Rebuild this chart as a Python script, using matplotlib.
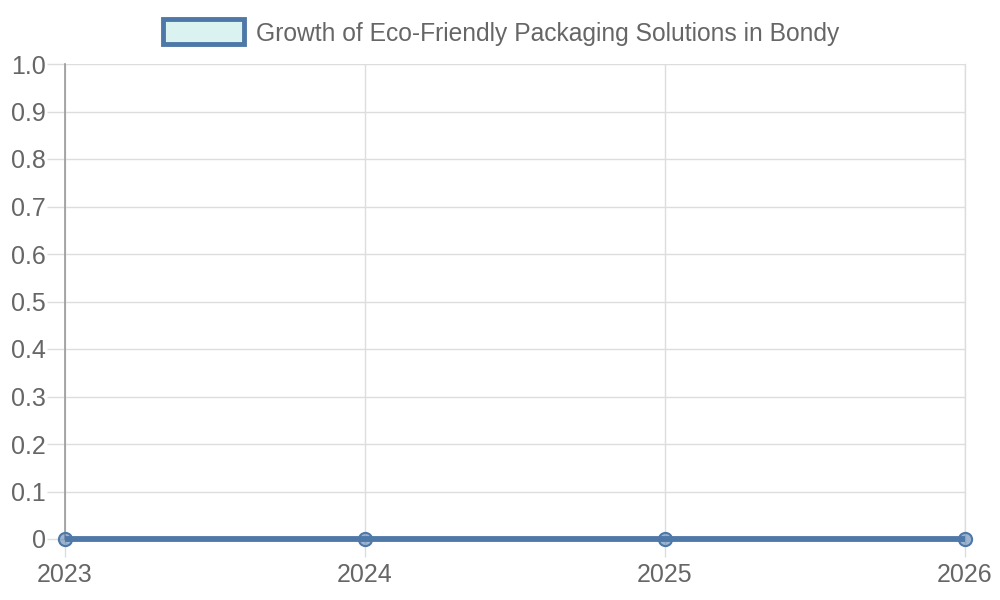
import matplotlib
matplotlib.use("Agg")
import matplotlib.pyplot as plt
from matplotlib.patches import Rectangle

plt.rcParams['font.family'] = ['Liberation Sans', 'DejaVu Sans']

years = [2023, 2024, 2025, 2026]
growth = [0, 0, 0, 0]
series_label = "Growth of Eco-Friendly Packaging Solutions in Bondy"
y_ticks = [0, 0.1, 0.2, 0.3, 0.4, 0.5, 0.6, 0.7, 0.8, 0.9, 1.0]
y_tick_labels = ["0", "0.1", "0.2", "0.3", "0.4", "0.5", "0.6", "0.7", "0.8", "0.9", "1.0"]

line_col = "#4e78a8"
fill_col = "#daf2f0"
grid_col = "#dddddd"
text_col = "#666666"

fig = plt.figure(figsize=(10, 6), dpi=100)
ax = fig.add_axes([0.065, 1 - 539 / 600, 0.9, 475 / 600])

ax.plot(years, growth, color=line_col, lw=4.2, zorder=3, clip_on=False,
        solid_capstyle='butt')
ax.plot(years, growth, ls='none', marker='o', ms=9.5, mfc=(0.3, 0.47, 0.66, 0.55),
        mec=line_col, mew=1.5, zorder=4, clip_on=False)

ax.set_xlim(years[0], years[-1])
ax.set_ylim(0, 1)
ax.set_xticks(years)
ax.set_xticklabels([str(y) for y in years])
ax.set_yticks(y_ticks)
ax.set_yticklabels(y_tick_labels)

ax.grid(True, color=grid_col, lw=1)
for s in ['top', 'bottom']:
    ax.spines[s].set_visible(False)
ax.spines['right'].set_color(grid_col)
ax.spines['right'].set_linewidth(1)
ax.spines['left'].set_color('#999999')
ax.spines['left'].set_linewidth(1.2)

ax.tick_params(axis='both', colors=grid_col, labelcolor=text_col, labelsize=18,
               length=13, width=1)
ax.tick_params(axis='x', pad=4)
ax.tick_params(axis='y', pad=1, length=13)

# legend box at top
fig.patches.append(Rectangle((163 / 1000, 1 - 44 / 600), 81 / 1000, 25 / 600,
                             transform=fig.transFigure, facecolor=fill_col,
                             edgecolor=line_col, lw=3.5))
fig.text(256 / 1000, 1 - 33.5 / 600, series_label, fontsize=17.7, color=text_col,
         va='center', ha='left')

fig.savefig("out.png", dpi=100)
